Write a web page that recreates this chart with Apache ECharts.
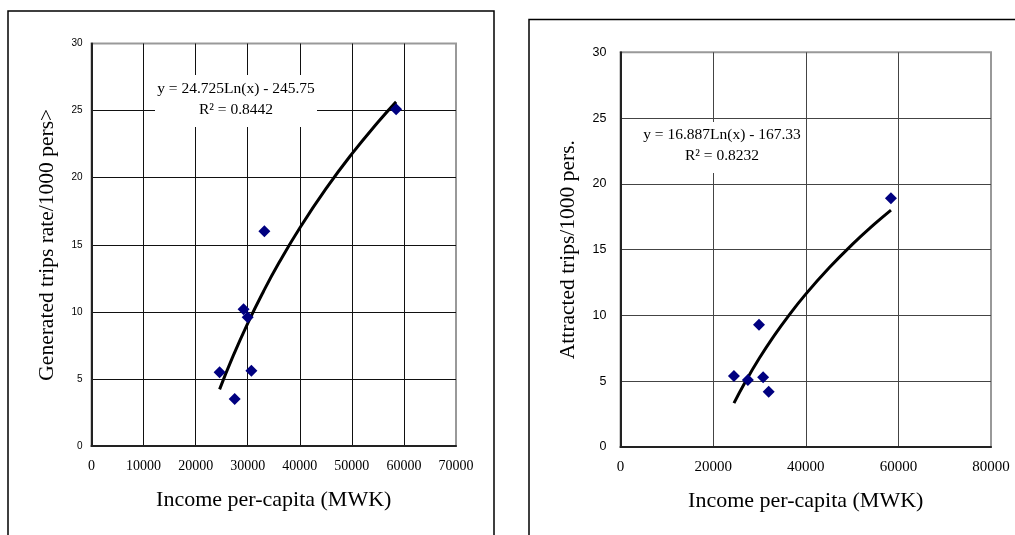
<!DOCTYPE html>
<html>
<head>
<meta charset="utf-8">
<script src="https://cdn.jsdelivr.net/npm/echarts@6/dist/echarts.min.js"></script>
<style>html,body{margin:0;padding:0;background:#fff;}#c{width:1015px;height:535px;}</style>
</head>
<body>
<div id="c"></div>
<script>
// ---- Data ----
const genPoints = [[24600,5.5],[27500,3.5],[29200,10.2],[30000,9.6],[30700,5.6],[33200,16.0],[58500,25.1]];
const genTrend = [[24600,4.22],[27000,6.53],[30000,9.14],[33000,11.50],[36000,13.65],[40000,16.25],[45000,19.16],[50000,21.77],[55000,24.13],[58500,25.65]];
const attPoints = [[24500,5.4],[27500,5.1],[29900,9.3],[30800,5.3],[32000,4.2],[58400,18.9]];
const attTrend = [[24500,3.34],[27000,4.98],[30000,6.76],[33000,8.37],[36000,9.84],[40000,11.62],[45000,13.60],[50000,15.38],[55000,16.99],[58400,18.01]];
const genEquation = ['y = 24.725Ln(x) - 245.75', 'R² = 0.8442'];
const attEquation = ['y = 16.887Ln(x) - 167.33', 'R² = 0.8232'];
const xNameText = 'Income per-capita (MWK)';
const genYName = 'Generated trips rate/1000 pers>';
const attYName = 'Attracted trips/1000 pers.';

const serif = '"Liberation Serif","Times New Roman",serif';
const sans = '"Liberation Sans",Arial,sans-serif';

const chart = echarts.init(document.getElementById('c'), null, {renderer:'canvas'});

function xAxisCfg(gridIndex, max, interval, fs, gridColor) {
  return {
    type:'value', gridIndex, min:0, max, interval,
    name: xNameText, nameLocation:'middle', nameGap:43,
    nameTextStyle:{fontFamily:serif, fontSize:22, color:'#000'},
    axisLine:{show:true, onZero:false, lineStyle:{color:'#222', width:2}},
    axisTick:{show:false},
    axisLabel:{fontFamily:serif, fontSize:fs, color:'#000', margin:13, formatter:v => String(v)},
    splitLine:{show:true, showMaxLine:false, lineStyle:{color:gridColor, width:1}}
  };
}
function yAxisCfg(gridIndex, name, gap, fs, margin, gridColor) {
  return {
    type:'value', gridIndex, min:0, max:30, interval:5,
    name, nameLocation:'middle', nameGap:gap,
    nameTextStyle:{fontFamily:serif, fontSize:21.5, color:'#000'},
    axisLine:{show:true, onZero:false, lineStyle:{color:'#222', width:2}},
    axisTick:{show:false},
    axisLabel:{fontFamily:sans, fontSize:fs, color:'#000', margin, formatter:v => String(v)},
    splitLine:{show:true, showMaxLine:false, lineStyle:{color:gridColor, width:1}}
  };
}

const option = {
  animation:false,
  backgroundColor:'#fff',
  grid:[
    {left:91.5, top:43.5, width:364.5, height:402.5, show:true, borderColor:'#999', borderWidth:2, backgroundColor:'transparent'},
    {left:620.5, top:52.3, width:370.5, height:394.7, show:true, borderColor:'#999', borderWidth:2, backgroundColor:'transparent'}
  ],
  xAxis:[ xAxisCfg(0, 70000, 10000, 14, '#111'), xAxisCfg(1, 80000, 20000, 15, '#444') ],
  yAxis:[ yAxisCfg(0, genYName, 33.5, 10, 9, '#111'), yAxisCfg(1, attYName, 41.5, 12.5, 14, '#444') ],
  series:[
    {type:'line', xAxisIndex:0, yAxisIndex:0, data:genTrend, smooth:true, showSymbol:false, symbol:'none',
     lineStyle:{color:'#000', width:3}, z:3},
    {type:'scatter', xAxisIndex:0, yAxisIndex:0, data:genPoints, symbol:'diamond', symbolSize:12,
     itemStyle:{color:'#000080', opacity:1}, z:4},
    {type:'line', xAxisIndex:1, yAxisIndex:1, data:attTrend, smooth:true, showSymbol:false, symbol:'none',
     lineStyle:{color:'#000', width:3}, z:3},
    {type:'scatter', xAxisIndex:1, yAxisIndex:1, data:attPoints, symbol:'diamond', symbolSize:12,
     itemStyle:{color:'#000080', opacity:1}, z:4}
  ],
  graphic:[
    {type:'rect', shape:{x:8, y:11, width:486, height:560}, style:{fill:'none', stroke:'#000', lineWidth:1.5}, z:10},
    {type:'rect', shape:{x:529, y:19.5, width:520, height:560}, style:{fill:'none', stroke:'#000', lineWidth:1.5}, z:10},
    {type:'rect', shape:{x:155, y:75, width:162, height:52}, style:{fill:'#fff'}, z:10},
    {type:'text', x:236, y:89, style:{text:genEquation[0], font:'15.5px '+serif, fill:'#000', textAlign:'center', textVerticalAlign:'middle'}, z:11},
    {type:'text', x:236, y:110, style:{text:genEquation[1], font:'15.5px '+serif, fill:'#000', textAlign:'center', textVerticalAlign:'middle'}, z:11},
    {type:'rect', shape:{x:638, y:122, width:165, height:51}, style:{fill:'#fff'}, z:10},
    {type:'text', x:722, y:135, style:{text:attEquation[0], font:'15.5px '+serif, fill:'#000', textAlign:'center', textVerticalAlign:'middle'}, z:11},
    {type:'text', x:722, y:155.5, style:{text:attEquation[1], font:'15.5px '+serif, fill:'#000', textAlign:'center', textVerticalAlign:'middle'}, z:11}
  ]
};
chart.setOption(option);
</script>
</body>
</html>
